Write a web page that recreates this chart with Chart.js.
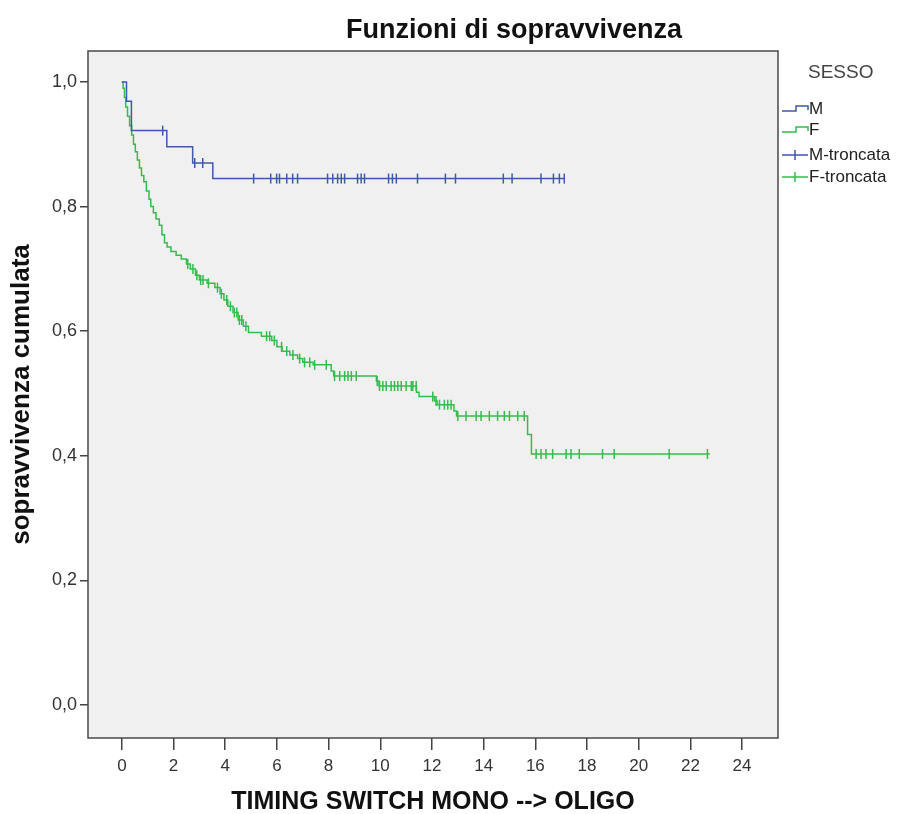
<!DOCTYPE html>
<html>
<head>
<meta charset="utf-8">
<script src="https://cdn.jsdelivr.net/npm/chart.js@4.4.1/dist/chart.umd.min.js"></script>
<style>
  html, body { margin: 0; padding: 0; background: #fff; }
</style>
</head>
<body>
<canvas id="kmChart" width="907" height="814"></canvas>
<script>
// Kaplan-Meier steps: time of each drop and survival after it
const maleTimes = [0, 0.18, 0.37, 1.74, 2.74, 3.52, 17.15];
const maleSurv  = [1.0, 0.969, 0.922, 0.896, 0.870, 0.845, 0.845];

const femaleTimes = [0, 0.05, 0.10, 0.15, 0.22, 0.30, 0.38, 0.45, 0.52, 0.60, 0.68, 0.76, 0.85, 0.95,
    1.05, 1.12, 1.22, 1.32, 1.45, 1.55, 1.65, 1.75, 1.90, 2.10, 2.30, 2.50, 2.65, 2.85, 3.00,
    3.30, 3.60, 3.80, 3.95, 4.10, 4.30, 4.50, 4.70, 4.90, 5.40, 5.80, 6.00, 6.20, 6.50, 6.80,
    7.00, 7.40, 8.10, 8.20, 9.85, 9.95, 11.40, 11.50, 12.10, 12.20, 12.85, 12.95, 15.70, 15.85, 22.75];
const femaleSurv = [1.0, 0.990, 0.975, 0.960, 0.945, 0.930, 0.915, 0.900, 0.888, 0.875, 0.862, 0.850, 0.840, 0.825,
    0.812, 0.800, 0.790, 0.780, 0.770, 0.755, 0.742, 0.735, 0.728, 0.722, 0.716, 0.708, 0.700, 0.690, 0.682,
    0.677, 0.670, 0.660, 0.650, 0.640, 0.630, 0.618, 0.608, 0.598, 0.592, 0.585, 0.575, 0.568, 0.562, 0.556,
    0.550, 0.546, 0.536, 0.528, 0.520, 0.512, 0.502, 0.495, 0.488, 0.482, 0.472, 0.464, 0.434, 0.403, 0.403];

// censored observations (times)
const maleCensored = [1.58, 2.82, 3.13, 5.10, 5.76, 5.99, 6.10, 6.38, 6.61, 6.80, 7.96, 8.16, 8.35, 8.49,
    8.62, 9.12, 9.26, 9.39, 10.32, 10.47, 10.62, 11.44, 12.52, 12.91, 14.76, 15.10, 16.22, 16.70, 16.93, 17.12];
const femaleCensored = [2.55, 2.75, 2.90, 3.05, 3.14, 3.35, 3.70, 3.85, 4.06, 4.20, 4.35, 4.45, 4.55, 4.64, 4.80,
    5.60, 5.72, 5.90, 6.18, 6.38, 6.62, 6.88, 7.07, 7.27, 7.46, 7.91, 8.23, 8.43, 8.62, 8.75, 8.88, 9.07,
    9.88, 9.97, 10.10, 10.23, 10.42, 10.55, 10.68, 10.81, 11.00, 11.20, 11.26, 11.39, 12.03, 12.16, 12.29,
    12.48, 12.61, 12.74, 13.00, 13.32, 13.71, 13.90, 14.22, 14.54, 14.80, 15.00, 15.32, 15.57, 16.03, 16.22,
    16.41, 16.67, 17.19, 17.38, 17.70, 18.60, 19.05, 21.18, 22.66];

const xTicks = [0, 2, 4, 6, 8, 10, 12, 14, 16, 18, 20, 22, 24];
const yTicks = [0, 0.2, 0.4, 0.6, 0.8, 1.0];
const legendLabels = ['M', 'F', 'M-troncata', 'F-troncata'];

const BLUE = '#3e58ac';
const GREEN = '#36bc4c';
const FONT = '"Liberation Sans", Arial, sans-serif';

function toPoints(times, surv) {
    return times.map((t, i) => ({ x: t, y: surv[i] }));
}

// survival value of the step curve at time t
function survAt(times, surv, t) {
    let s = surv[0];
    for (let i = 0; i < times.length; i++) {
        if (times[i] <= t) s = surv[i];
    }
    return s;
}

function censorPoints(cens, times, surv) {
    return cens.map(t => ({ x: t, y: survAt(times, surv, t) }));
}

// plot background, frame, title and the SPSS-like legend
const spssDecor = {
    id: 'spssDecor',
    beforeDraw(chart) {
        const { ctx, chartArea: a } = chart;
        ctx.save();
        ctx.fillStyle = '#f0f0f0';
        ctx.fillRect(a.left, a.top, a.right - a.left, a.bottom - a.top);
        ctx.restore();
    },
    afterDraw(chart) {
        const { ctx, chartArea: a } = chart;
        ctx.save();
        ctx.strokeStyle = '#4a4a4a';
        ctx.lineWidth = 1.5;
        ctx.strokeRect(a.left, a.top, a.right - a.left, a.bottom - a.top);

        ctx.fillStyle = '#111';
        ctx.font = 'bold 27px ' + FONT;
        ctx.textAlign = 'center';
        ctx.textBaseline = 'middle';
        ctx.fillText('Funzioni di sopravvivenza', 514, 31);

        ctx.textAlign = 'left';
        ctx.fillStyle = '#444';
        ctx.font = '19px ' + FONT;
        ctx.fillText('SESSO', 808, 73);

        ctx.font = '17px ' + FONT;
        const rows = [109, 130, 155, 177];
        const colors = [BLUE, GREEN, BLUE, GREEN];
        rows.forEach((y, i) => {
            ctx.strokeStyle = colors[i];
            ctx.lineWidth = 1.5;
            ctx.beginPath();
            if (i < 2) {
                ctx.moveTo(782, y + 2);
                ctx.lineTo(796, y + 2);
                ctx.lineTo(796, y - 3);
                ctx.lineTo(808, y - 3);
                ctx.lineTo(808, y + 1);
            } else {
                ctx.moveTo(782, y);
                ctx.lineTo(808, y);
                ctx.moveTo(795, y - 5);
                ctx.lineTo(795, y + 5);
            }
            ctx.stroke();
            ctx.fillStyle = '#222';
            ctx.fillText(legendLabels[i], 809, y);
        });
        ctx.restore();
    }
};

const ctx = document.getElementById('kmChart').getContext('2d');
new Chart(ctx, {
    type: 'scatter',
    data: {
        datasets: [
            {
                label: 'M',
                data: toPoints(maleTimes, maleSurv),
                showLine: true,
                stepped: 'before',
                borderColor: BLUE,
                borderWidth: 1.5,
                pointRadius: 0
            },
            {
                label: 'F',
                data: toPoints(femaleTimes, femaleSurv),
                showLine: true,
                stepped: 'before',
                borderColor: GREEN,
                borderWidth: 1.5,
                pointRadius: 0
            },
            {
                label: 'M-troncata',
                data: censorPoints(maleCensored, maleTimes, maleSurv),
                showLine: false,
                pointStyle: 'line',
                rotation: 90,
                pointRadius: 5,
                borderColor: BLUE,
                borderWidth: 1.5
            },
            {
                label: 'F-troncata',
                data: censorPoints(femaleCensored, femaleTimes, femaleSurv),
                showLine: false,
                pointStyle: 'line',
                rotation: 90,
                pointRadius: 5,
                borderColor: GREEN,
                borderWidth: 1.5
            }
        ]
    },
    options: {
        responsive: false,
        animation: false,
        layout: { padding: { top: 51, right: 129, left: 0, bottom: 0 } },
        plugins: {
            legend: { display: false },
            tooltip: { enabled: false },
            title: { display: false }
        },
        scales: {
            x: {
                type: 'linear',
                min: -1.31,
                max: 25.39,
                afterBuildTicks: s => { s.ticks = xTicks.map(v => ({ value: v })); },
                afterFit: s => { s.height = 76; },
                border: { display: false },
                grid: { drawOnChartArea: false, drawTicks: true, tickLength: 12, color: '#444', lineWidth: 1.5 },
                ticks: { color: '#333', font: { family: FONT, size: 17 }, padding: 6, maxRotation: 0, autoSkip: false },
                title: {
                    display: true,
                    text: 'TIMING SWITCH MONO --> OLIGO',
                    color: '#111',
                    font: { family: FONT, size: 25, weight: 'bold', lineHeight: 1 },
                    padding: { top: 0, bottom: -1 }
                }
            },
            y: {
                type: 'linear',
                min: -0.053,
                max: 1.0498,
                afterBuildTicks: s => { s.ticks = yTicks.map(v => ({ value: v })); },
                afterFit: s => { s.width = 88; },
                border: { display: false },
                grid: { drawOnChartArea: false, drawTicks: true, tickLength: 8, color: '#444', lineWidth: 1.5 },
                ticks: {
                    color: '#333',
                    font: { family: FONT, size: 18 },
                    padding: 3,
                    callback: v => v.toFixed(1).replace('.', ',')
                },
                title: {
                    display: true,
                    text: 'sopravvivenza cumulata',
                    color: '#111',
                    font: { family: FONT, size: 26, weight: 'bold', lineHeight: 1 },
                    padding: { top: 9, bottom: 0 }
                }
            }
        }
    },
    plugins: [spssDecor]
});
</script>
</body>
</html>
